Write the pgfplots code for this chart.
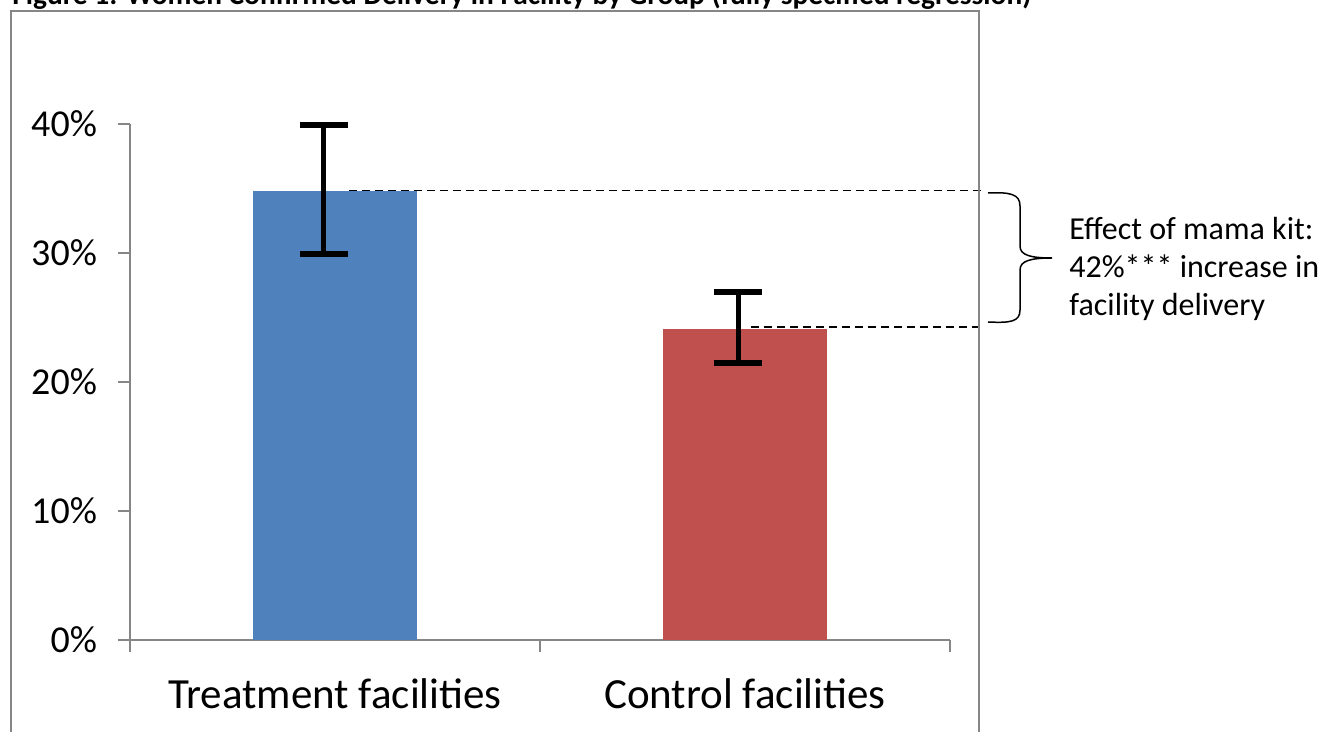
\documentclass[border=0pt]{standalone}
\usepackage{fontspec}
\setmainfont{Carlito}
\usepackage{pgfplots}
\pgfplotsset{compat=1.18}
\definecolor{barblue}{HTML}{4F81BD}
\definecolor{barred}{HTML}{C0504D}
\definecolor{axgray}{HTML}{868686}
\begin{document}
\begin{tikzpicture}
\useasboundingbox (0pt,0pt) rectangle (661pt,-366pt);
\clip (0pt,0pt) rectangle (661pt,-366pt);
\begin{axis}[
  at={(65pt,-320pt)}, anchor=south west,
  scale only axis, width=410pt, height=258pt,
  xmin=-0.5, xmax=1.5, ymin=0, ymax=40,
  clip=false,
  axis x line=bottom, axis y line=left,
  axis line style={axgray, line width=0.75pt, -},
  tick style={axgray, line width=0.75pt},
  tick align=outside, major tick length=6pt,
  xtick={-0.5,0.5,1.5}, xticklabels={},
  extra x ticks={0,1},
  extra x tick labels={Treatment facilities, Control facilities},
  extra x tick style={major tick length=0pt, tick label style={font=\fontsize{21.5pt}{25pt}\selectfont, text=black, anchor=base, yshift=-34pt}},
  ytick={0,10,20,30,40}, yticklabels={0\%,10\%,20\%,30\%,40\%},
  yticklabel style={font=\fontsize{19pt}{23pt}\selectfont, xshift=-7pt},
]
\addplot[ybar, bar shift=0pt, bar width=82pt, fill=barblue, draw=none] coordinates {(0,34.8)};
\addplot[ybar, bar shift=0pt, bar width=82pt, fill=barred, draw=none] coordinates {(1,24.1)};
\addplot[black, only marks, mark=*, mark size=0.1pt,
  error bars/.cd, y dir=both, y explicit, error mark=|,
  error bar style={black, solid, line width=2.5pt},
  error mark options={black, solid, line width=3pt, mark size=12pt}]
  coordinates {(-0.027,34.8) += (0,5.1) -= (0,4.9)
               (0.983,24.1) += (0,2.9) -= (0,2.6)};
\draw[black, line width=0.75pt, dash pattern=on 4pt off 2.5pt] (axis cs:0.034,34.85) -- (axis cs:1.585,34.85);
\draw[black, line width=0.75pt, dash pattern=on 4pt off 2.5pt] (axis cs:1.015,24.25) -- (axis cs:1.585,24.25);
\end{axis}
\begin{scope}[x=0.5pt,y=-0.5pt]
\draw[axgray, line width=1pt] (11,760) -- (11,11) -- (979,11) -- (979,760);
\node[anchor=base west, inner sep=0pt, font=\bfseries\fontsize{14.7pt}{17pt}\selectfont] at (12,5) {Figure 1: Women Confirmed Delivery in Facility by Group (fully specified regression)};
\draw[black, line width=0.75pt] (988,193) .. controls (1010,192) and (1020,194) .. (1020,206) -- (1020,246) .. controls (1020,255) and (1030,258) .. (1052,258)
  .. controls (1030,258) and (1020,261) .. (1020,270) -- (1020,310) .. controls (1020,322) and (1010,323) .. (988,322);
\node[anchor=base west, inner sep=0pt, font=\fontsize{16pt}{19pt}\selectfont] at (1069,240) {Effect of mama kit:};
\node[anchor=base west, inner sep=0pt, font=\fontsize{16pt}{19pt}\selectfont] at (1069,278) {42\%*** increase in};
\node[anchor=base west, inner sep=0pt, font=\fontsize{16pt}{19pt}\selectfont] at (1069,316) {facility delivery};
\end{scope}
\end{tikzpicture}
\end{document}
